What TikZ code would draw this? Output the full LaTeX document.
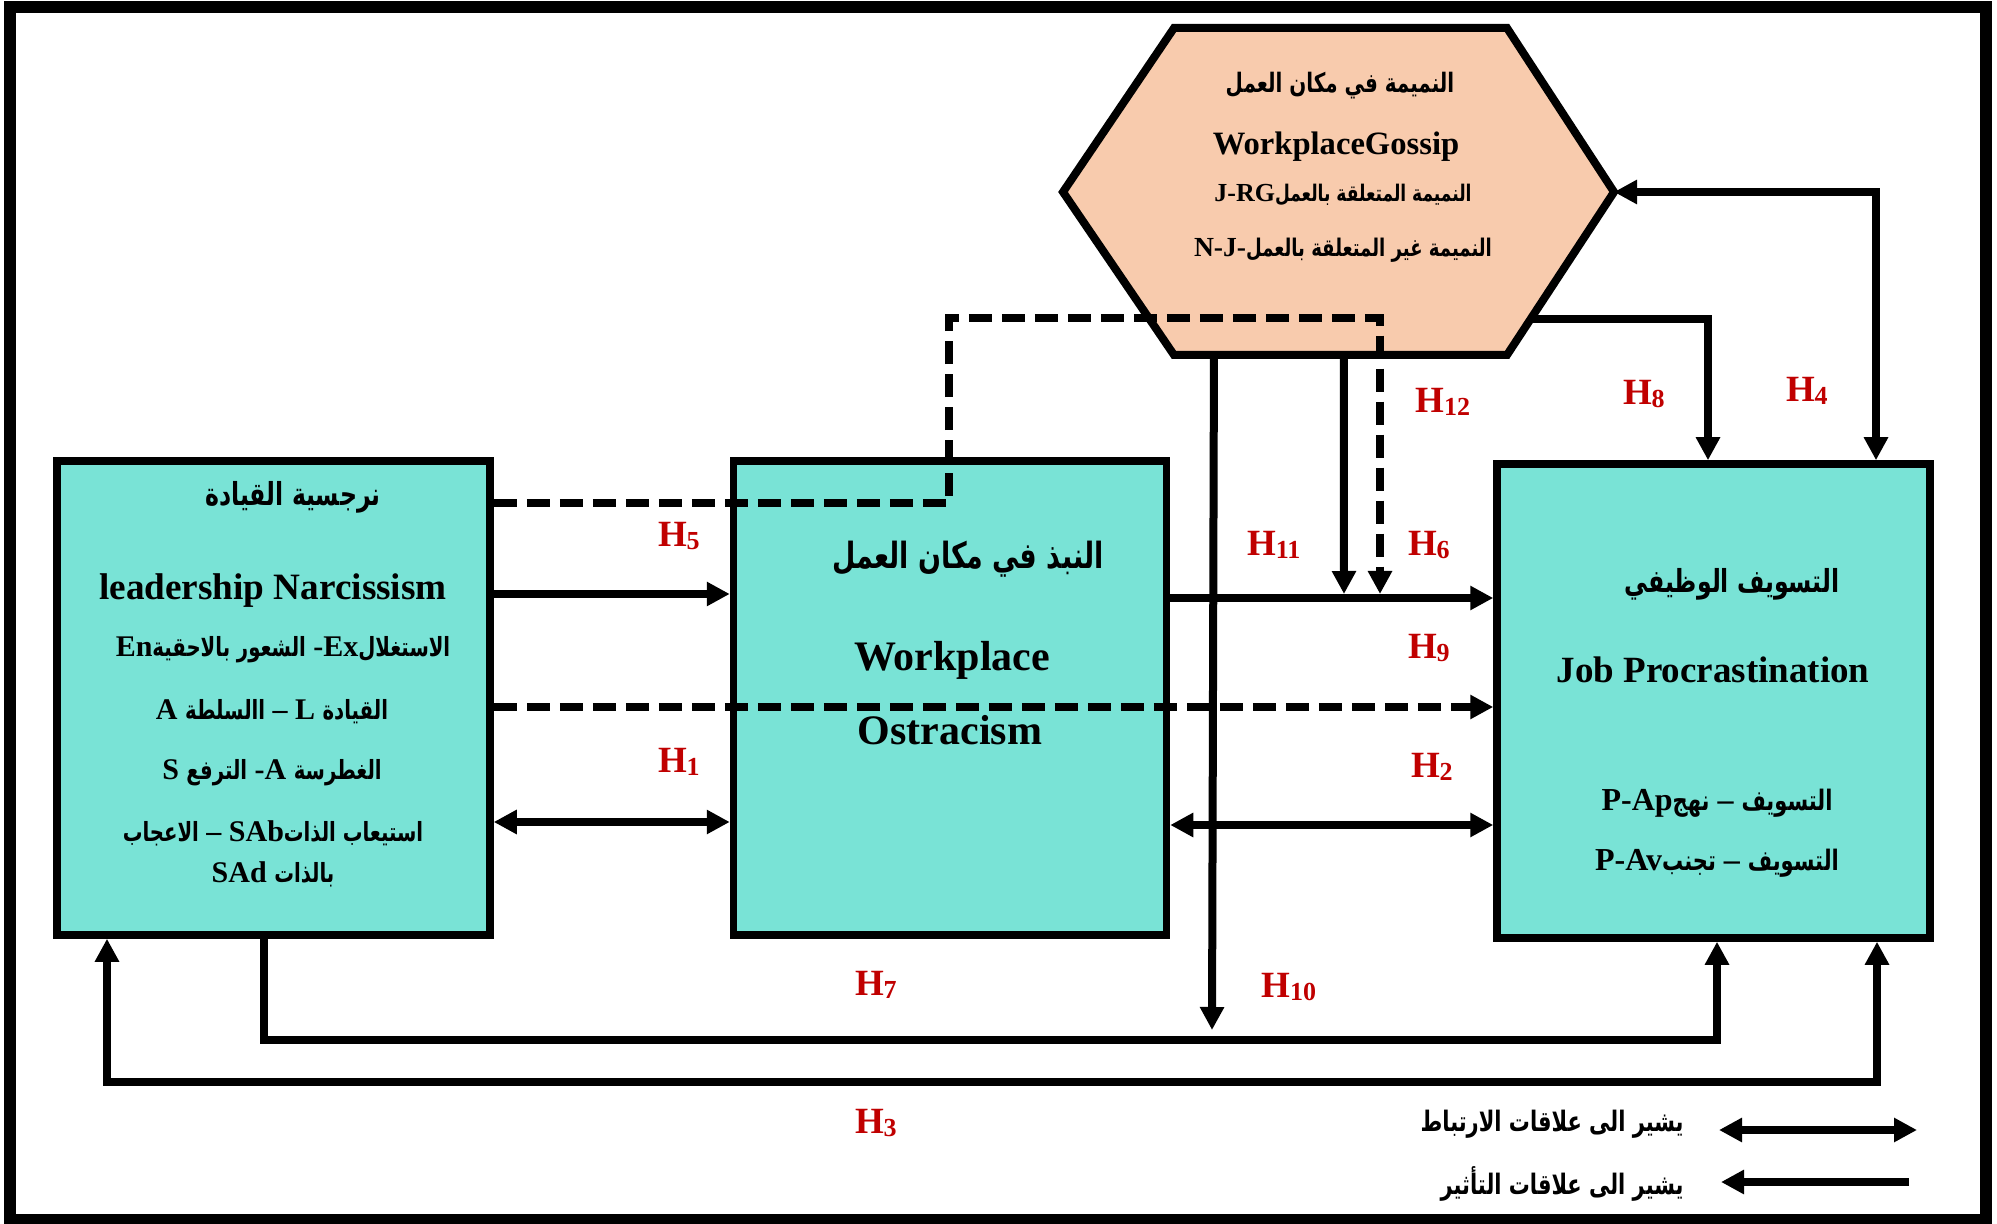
\documentclass[tikz,border=0pt]{standalone}
\usepackage{fontspec}
\setmainfont{Liberation Serif}
\newfontfamily\arb[Script=Arabic,Scale=0.88,FakeStretch=0.745]{DejaVu Sans}
\TeXXeTstate=1
\usetikzlibrary{arrows.meta,calc}

\definecolor{narfill}{RGB}{121,227,214}
\definecolor{gosfill}{RGB}{248,203,173}
\definecolor{hred}{RGB}{192,0,0}

% Arabic run, Latin run, right-to-left line
\newcommand\AR[1]{{\arb\bfseries #1}}
\newcommand\LT[1]{{\rmfamily\bfseries\beginL #1\endL}}
\newcommand\RTL[1]{\beginR #1\endR}
% hypothesis label H with lowered index
\newcommand\hy[1]{H\kern-0.02em\raisebox{-1.6pt}{\fontsize{13}{13}\selectfont #1}}

\begin{document}
\begin{tikzpicture}[x=0.5pt,y=-0.5pt,
  box/.style={draw, line width=3.75pt, fill=narfill, minimum width=216.5pt,
              minimum height=237pt, inner sep=0pt},
  conn/.style={line width=4pt, >={Triangle[length=11.5pt,width=11.5pt]}},
  dconn/.style={conn, dash pattern=on 11.5pt off 5pt},
  fsz/.style={inner sep=0pt, font=\fontsize{#1}{#1}\selectfont\bfseries},
  hlab/.style={inner sep=0pt, text=hred, font=\fontsize{18.5}{20}\selectfont\bfseries}]

\useasboundingbox (0,0) rectangle (1997,1224);
\draw[line width=6pt] (10,7.5) rectangle (1986,1219.5);

% the three variable boxes
\node[box] (LN) at (273.5,698) {};
\node[box] (WO) at (950,698) {};
\node[box] (JP) at (1713.5,701) {};

% moderator hexagon
\coordinate (hTL) at (1174,28);
\coordinate (hTR) at (1507,28);
\coordinate (hR)  at (1614,192);
\coordinate (hBR) at (1507,355);
\coordinate (hBL) at (1174,355);
\coordinate (hL)  at (1063,192);
\filldraw[line width=4pt, fill=gosfill] (hTL) -- (hTR) -- (hR) -- (hBR) -- (hBL) -- (hL) -- cycle;
\coordinate (g10) at ($(hBL)!0.12!(hBR)$);
\coordinate (g11) at ($(hBL)!0.51!(hBR)$);
\coordinate (g8)  at ($(hR)!0.78!(hBR)$);

% free ends on the mediator-to-outcome line and below
\coordinate (j12) at (1380,594);
\coordinate (j11) at (1344,594);
\coordinate (j10) at (1212,1030);

% connectors
\draw[conn,->] (LN.east |- 0,594) -- (WO.west |- 0,594);
\draw[conn,->] (WO.east |- 0,598) -- (JP.west |- 0,598);
\draw[dconn,->] (LN.east |- 0,707) -- (JP.west |- 0,707);
\draw[conn,<->] (LN.east |- 0,822) -- (WO.west |- 0,822);
\draw[conn,<->] (WO.east |- 0,825) -- (JP.west |- 0,825);
\draw[dconn,->] (LN.east |- 0,503) -| (949,318) -| (j12);
\draw[conn,->] (g11) -- (j11);
\draw[conn,->] (g10) -- (j10);
\draw[conn,->] (LN.south -| 264,0) |- (1717,1040) -- (JP.south -| 1717,0);
\draw[conn,<->] (LN.south -| 107,0) |- (1877,1082) -- (JP.south -| 1877,0);
\draw[conn,<->] (hR) -| (JP.north -| 1876,0);
\draw[conn,->] (g8) -| (JP.north -| 1708,0);

% texts of leadership narcissism
\node[fsz=18] (t1) at (293,497) {\RTL{\AR{نرجسية القيادة}}};
\node[fsz=18.6] (t2) at (273,591) {leadership Narcissism};
\node[fsz=15] (t3) at (283,650) {\RTL{\AR{الاستغلال}\LT{Ex}\LT{-} \AR{الشعور بالاحقية}\LT{En}}};
\node[fsz=15] (t4) at (272,712) {\RTL{\AR{القيادة} \LT{L} \LT{–} \AR{االسلطة} \LT{A}}};
\node[fsz=15] (t5) at (272,773) {\RTL{\AR{الغطرسة} \LT{A}\LT{-} \AR{الترفع} \LT{S}}};
\node[fsz=15] (t6) at (273,833) {\RTL{\AR{استيعاب الذات}\LT{SAb} \LT{–} \AR{الاعجاب}}};
\node[fsz=15] (t7) at (273,874) {\RTL{\AR{بالذات} \LT{SAd}}};

% texts of workplace ostracism
\node[fsz=20.5] (w1) at (968,559) {\RTL{\AR{النبذ في مكان العمل}}};
\node[fsz=21] (w2) at (952,660) {Workplace};
\node[fsz=21] (w3) at (950,730) {Ostracism};

% texts of job procrastination
\node[fsz=18] (p1) at (1732,584) {\RTL{\AR{التسويف الوظيفي}}};
\node[fsz=18.5] (p2) at (1713,670) {Job Procrastination};
\node[fsz=16] (p3) at (1717,803) {\RTL{\AR{التسويف} \LT{–} \AR{نهج}\LT{P-Ap}}};
\node[fsz=16] (p4) at (1717,863) {\RTL{\AR{التسويف} \LT{–} \AR{تجنب}\LT{P-Av}}};

% texts of workplace gossip
\node[fsz=15.2] (g1) at (1340,86) {\RTL{\AR{النميمة في مكان العمل}}};
\node[fsz=16.3] (g2) at (1336,147) {WorkplaceGossip};
\node[fsz=13] (g3) at (1343,195) {\RTL{\AR{النميمة المتعلقة بالعمل}\LT{J-RG}}};
\node[fsz=13.8] (g4) at (1343,250) {\RTL{\AR{النميمة غير المتعلقة بالعمل}\LT{N-J-}}};

% hypothesis labels
\node[hlab] (H12) at (1443,402) {\hy{12}};
\node[hlab] (H8)  at (1644,394) {\hy{8}};
\node[hlab] (H4)  at (1807,391) {\hy{4}};
\node[hlab] (H5)  at (679,536)  {\hy{5}};
\node[hlab] (H11) at (1274,545) {\hy{11}};
\node[hlab] (H6)  at (1429,545) {\hy{6}};
\node[hlab] (H9)  at (1429,648) {\hy{9}};
\node[hlab] (H1)  at (679,762)  {\hy{1}};
\node[hlab] (H2)  at (1432,767) {\hy{2}};
\node[hlab] (H7)  at (876,985)  {\hy{7}};
\node[hlab] (H10) at (1289,987) {\hy{10}};
\node[hlab] (H3)  at (876,1123) {\hy{3}};

% legend
\coordinate (lgA1) at (1719,1130);
\coordinate (lgA2) at (1917,1130);
\coordinate (lgB1) at (1909,1182);
\coordinate (lgB2) at (1721,1182);
\draw[conn,<->] (lgA1) -- (lgA2);
\draw[conn,->] (lgB1) -- (lgB2);
\node[fsz=16, anchor=east] (lg1) at (1684,1124) {\RTL{\AR{يشير الى علاقات الارتباط}}};
\node[fsz=16, anchor=east] (lg2) at (1684,1184) {\RTL{\AR{يشير الى علاقات التأثير}}};
\end{tikzpicture}
\end{document}
